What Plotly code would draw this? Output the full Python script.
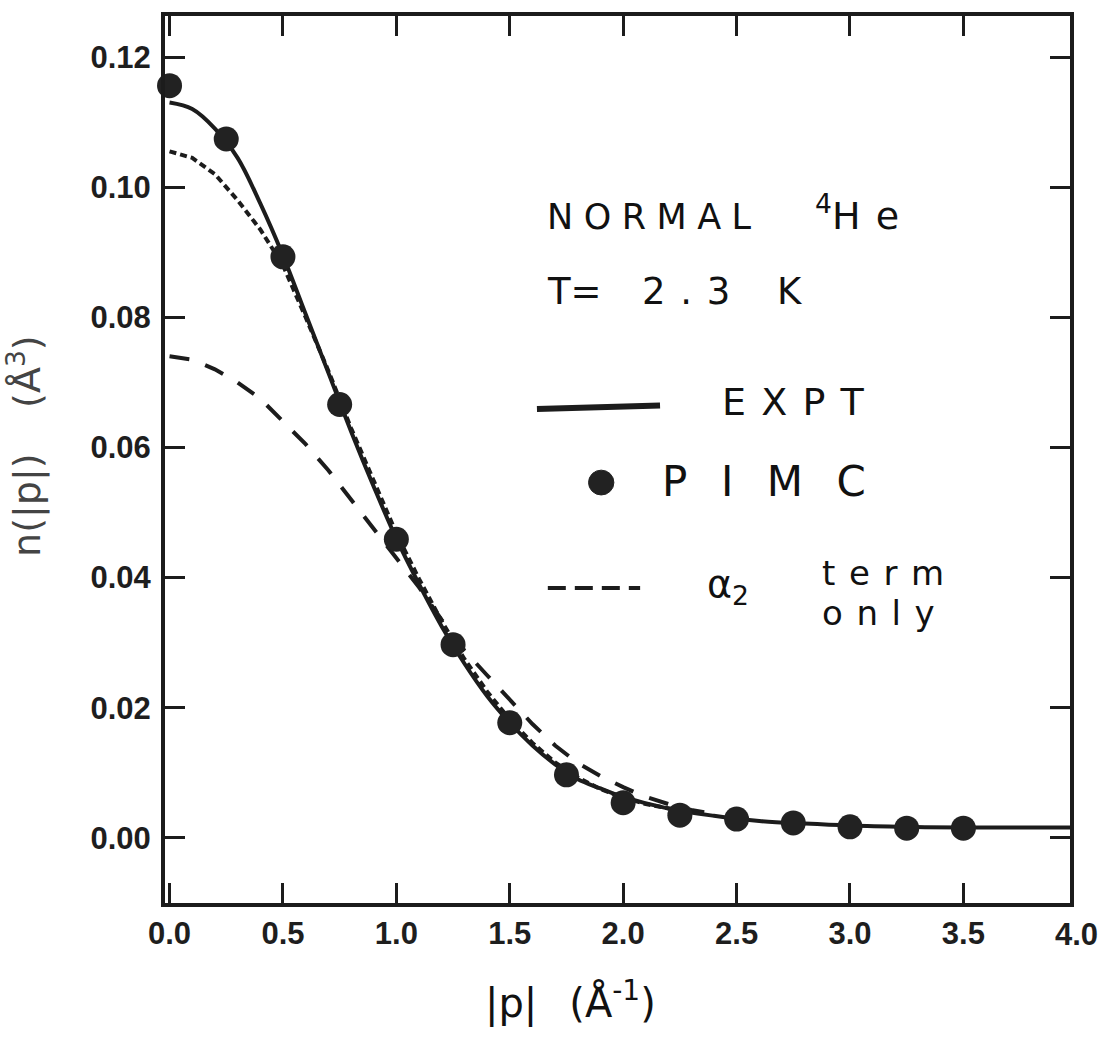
import plotly.graph_objects as go

# Momentum distribution n(|p|) of normal liquid 4He at T = 2.3 K

# Experimental curve (solid)
p_expt = [0.0, 0.1, 0.2, 0.3, 0.4, 0.5, 0.6, 0.7, 0.8, 0.9, 1.0, 1.1, 1.2, 1.3,
          1.4, 1.5, 1.6, 1.7, 1.8, 1.9, 2.0, 2.2, 2.4, 2.6, 2.8, 3.0, 3.25, 3.5, 4.0]
n_expt = [0.1130, 0.1120, 0.1090, 0.1045, 0.0975, 0.0895, 0.0805, 0.0715, 0.0625,
          0.0540, 0.0460, 0.0390, 0.0325, 0.0268, 0.0218, 0.0177, 0.0142, 0.0113,
          0.0090, 0.0076, 0.0063, 0.0045, 0.0034, 0.0026, 0.0022, 0.0019, 0.0017,
          0.0016, 0.0016]

# Path-integral Monte Carlo points
p_pimc = [0.0, 0.25, 0.5, 0.75, 1.0, 1.25, 1.5, 1.75, 2.0, 2.25, 2.5, 2.75, 3.0, 3.25, 3.5]
n_pimc = [0.1156, 0.1074, 0.0893, 0.0666, 0.0459, 0.0297, 0.0177, 0.0097, 0.0054,
          0.0035, 0.0029, 0.0023, 0.0017, 0.0015, 0.0015]

# Fit curve (short dashes)
p_fit = [0.0, 0.1, 0.2, 0.3, 0.4, 0.5, 0.6, 0.7, 0.8, 0.9, 1.0, 1.1, 1.2, 1.3, 1.4,
         1.5, 1.6, 1.7, 1.8, 1.9, 2.0, 2.1, 2.2, 2.3]
n_fit = [0.1055, 0.1045, 0.1020, 0.0980, 0.0935, 0.0880, 0.0800, 0.0718, 0.0630,
         0.0548, 0.0468, 0.0398, 0.0333, 0.0275, 0.0225, 0.0182, 0.0146, 0.0116,
         0.0093, 0.0075, 0.0062, 0.0052, 0.0045, 0.0039]

# alpha_2 term only (long dashes)
p_a2 = [0.0, 0.1, 0.2, 0.3, 0.4, 0.5, 0.6, 0.7, 0.8, 0.9, 1.0, 1.1, 1.2, 1.3, 1.4,
        1.5, 1.6, 1.7, 1.8, 1.9, 2.0, 2.1, 2.2, 2.3, 2.4]
n_a2 = [0.0740, 0.0735, 0.0720, 0.0700, 0.0675, 0.0640, 0.0605, 0.0565, 0.0520,
        0.0475, 0.0430, 0.0385, 0.0335, 0.0288, 0.0250, 0.0212, 0.0175, 0.0142,
        0.0115, 0.0095, 0.0078, 0.0063, 0.0052, 0.0043, 0.0037]

x_ticks = [0.0, 0.5, 1.0, 1.5, 2.0, 2.5, 3.0, 3.5]
x_last = 4.0          # final label, sits just past the right frame edge
y_ticks = [0.00, 0.02, 0.04, 0.06, 0.08, 0.10, 0.12]
x_range = [-0.02, 3.97]

INK = "#1c1c1c"
TS = "\u2009"  # thin space
HS = "\u200a"  # hair space


def spaced(word, gap=TS):
    return gap.join(word)


fig = go.Figure()
fig.add_trace(go.Scatter(x=p_a2, y=n_a2, mode="lines",
                         line=dict(color=INK, width=4, dash="20px,17px"),
                         showlegend=False))
fig.add_trace(go.Scatter(x=p_fit, y=n_fit, mode="lines",
                         line=dict(color=INK, width=4, dash="7px,4px"),
                         showlegend=False))
fig.add_trace(go.Scatter(x=p_expt, y=n_expt, mode="lines", line_shape="spline",
                         line=dict(color=INK, width=4), showlegend=False))
fig.add_trace(go.Scatter(x=p_pimc, y=n_pimc, mode="markers",
                         marker=dict(color="#222222", size=25), showlegend=False,
                         cliponaxis=False))

tick_font = dict(family="Liberation Sans", size=31, color="#1e1e1e")
axis_common = dict(showline=True, linecolor=INK, linewidth=4, mirror="ticks",
                   ticks="inside", ticklen=20, tickwidth=3, tickcolor=INK,
                   showgrid=False, zeroline=False, tickfont=tick_font)

fig.update_xaxes(range=x_range, tickvals=x_ticks,
                 ticktext=[f"<b>{v:.1f}</b>" for v in x_ticks], **axis_common)
fig.update_yaxes(range=[-0.0100, 0.1263], tickvals=y_ticks,
                 ticktext=[f"<b>{v:.2f}</b>" for v in y_ticks],
                 ticklabelstandoff=4, **axis_common)

# last x tick label, placed in paper space beyond the frame
fig.add_annotation(xref="paper", yref="paper",
                   x=(x_last - x_range[0]) / (x_range[1] - x_range[0]), y=0,
                   yshift=-31, xanchor="center", yanchor="middle", showarrow=False,
                   text=f"<b>{x_last:.1f}</b>", font=tick_font)

hand = dict(family="DejaVu Sans", color="#111111")
notes = [
    dict(x=0.42, y=0.773, text=spaced("NORMAL", TS + HS), size=35),
    dict(x=0.716, y=0.778, text="<sup>4</sup>" + spaced("He", TS + TS), size=38),
    dict(x=0.42, y=0.689, text="T=", size=37),
    dict(x=0.525, y=0.689, text="2" + TS * 2 + "." + TS * 2 + "3", size=37),
    dict(x=0.674, y=0.689, text="K", size=37),
    dict(x=0.613, y=0.565, text=spaced("EXPT", TS * 2), size=38),
    dict(x=0.547, y=0.475, text=spaced("PIMC", TS * 4), size=42),
    dict(x=0.597, y=0.357, text="α<sub>2</sub>", size=38),
    dict(x=0.724, y=0.372, text=spaced("term", TS * 2), size=34),
    dict(x=0.724, y=0.327, text=spaced("only", TS * 2), size=34),
]
for a in notes:
    size = a.pop("size")
    fig.add_annotation(xref="paper", yref="paper", xanchor="left", yanchor="middle",
                       showarrow=False, font=dict(hand, size=size), **a)

# legend keys
fig.add_shape(type="line", xref="paper", yref="paper", x0=0.411, x1=0.547,
              y0=0.557, y1=0.561, line=dict(color=INK, width=6))
fig.add_shape(type="circle", xref="paper", yref="paper", x0=0.468, x1=0.496,
              y0=0.460, y1=0.488, fillcolor="#222222", line=dict(color="#222222", width=1))
fig.add_shape(type="line", xref="paper", yref="paper", x0=0.423, x1=0.525,
              y0=0.355, y1=0.355, line=dict(color=INK, width=4, dash="18px,9px"))

# axis titles
fig.add_annotation(xref="paper", yref="paper", x=-0.155, y=0.515, textangle=-90,
                   xanchor="center", yanchor="middle",
                   text="n(|p|)" + TS * 6 + "(Å<sup>3</sup>)", showarrow=False,
                   font=dict(family="DejaVu Sans", size=38, color="#444444"))
fig.add_annotation(xref="paper", yref="paper", x=0.448, y=-0.11, yanchor="middle",
                   text="|p|" + TS * 4 + "(Å<sup>-1</sup>)", showarrow=False,
                   font=dict(family="DejaVu Sans", size=40, color="#111111"))

fig.update_layout(width=1099, height=1037,
                  margin=dict(l=165, r=29, t=13, b=134),
                  paper_bgcolor="white", plot_bgcolor="white")

fig.write_html("out.html")
